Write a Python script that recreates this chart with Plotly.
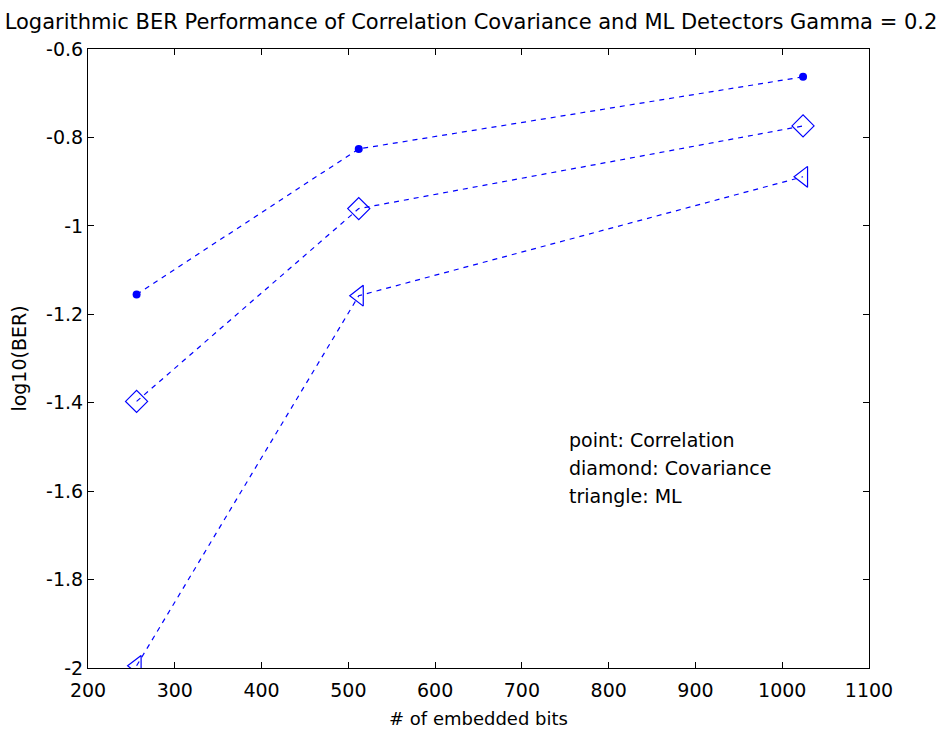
import plotly.graph_objects as go

# Embedded payload sizes (bits)
bits = [256, 512, 1024]

# log10(BER) for each detector
ber_correlation = [-1.155, -0.826, -0.663]
ber_covariance = [-1.397, -0.961, -0.774]
ber_ml = [-1.995, -1.158, -0.889]

x_ticks = [200, 300, 400, 500, 600, 700, 800, 900, 1000, 1100]
y_ticks = [-2, -1.8, -1.6, -1.4, -1.2, -1, -0.8, -0.6]
y_tick_text = ["-2", "-1.8", "-1.6", "-1.4", "-1.2", "-1", "-0.8", "-0.6"]

legend_lines = ["point: Correlation", "diamond: Covariance", "triangle: ML"]

BLUE = "rgb(0,0,255)"
FONT = "DejaVu Sans"

fig = go.Figure()

line_style = dict(color=BLUE, width=1.2, dash="5px,5px")

fig.add_trace(go.Scatter(
    x=bits, y=ber_correlation, mode="lines+markers",
    line=line_style,
    marker=dict(symbol="circle", size=8, color=BLUE),
))
fig.add_trace(go.Scatter(
    x=bits, y=ber_covariance, mode="lines+markers",
    line=line_style,
    marker=dict(symbol="diamond-open", size=17, color=BLUE, line=dict(width=1.2, color=BLUE)),
))
fig.add_trace(go.Scatter(
    x=bits, y=ber_ml, mode="lines+markers",
    line=line_style,
    marker=dict(symbol="triangle-left-open", size=18, color=BLUE, line=dict(width=1.2, color=BLUE)),
))

for i, txt in enumerate(legend_lines):
    fig.add_annotation(
        x=752, y=-1.484 - i * 0.0635, xref="x", yref="y",
        text=txt, showarrow=False, xanchor="left", yanchor="middle",
        font=dict(family=FONT, size=19, color="black"),
    )

axis_common = dict(
    showgrid=False, zeroline=False, automargin=False,
    showline=True, linecolor="black", linewidth=1, mirror="ticks",
    ticks="inside", ticklen=6, tickcolor="black", tickwidth=1,
    tickfont=dict(family=FONT, size=19, color="black"),
)

fig.update_xaxes(
    range=[200, 1100], tickvals=x_ticks, ticklabelstandoff=5,
    title=dict(text="# of embedded bits", font=dict(family=FONT, size=18, color="black"), standoff=12),
    **axis_common,
)
fig.update_yaxes(
    range=[-2, -0.6], tickvals=y_ticks, ticktext=y_tick_text,
    title=dict(text="log10(BER)", font=dict(family=FONT, size=19, color="black"), standoff=14),
    **axis_common,
)

fig.update_layout(
    width=942, height=729,
    margin=dict(l=88, r=73, t=49, b=61),
    paper_bgcolor="white", plot_bgcolor="white",
    showlegend=False,
    title=dict(
        text="Logarithmic BER Performance of Correlation Covariance and ML Detectors Gamma = 0.2",
        x=0.5, xanchor="center", y=1 - 22 / 729, yanchor="middle",
        font=dict(family=FONT, size=21, color="black"),
    ),
)

fig.write_html("out.html")
